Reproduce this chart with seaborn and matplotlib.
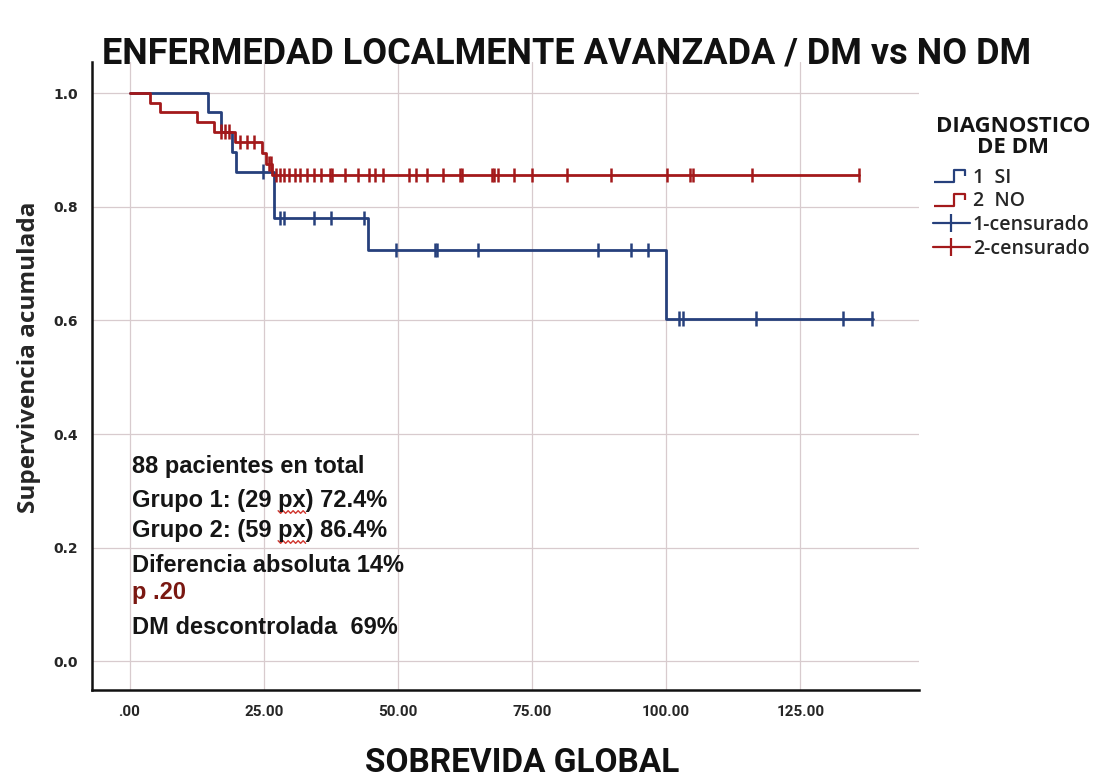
import numpy as np
import pandas as pd
import matplotlib
matplotlib.use("Agg")
import matplotlib.pyplot as plt
from matplotlib.lines import Line2D
from matplotlib.path import Path
import seaborn as sns

# Kaplan-Meier curves: step times (months) and cumulative survival after each step
si_times = [0.0, 14.6, 17.0, 19.0, 19.8, 27.0, 44.5, 100.0, 138.5]
si_surv = [1.0, 0.966, 0.931, 0.897, 0.862, 0.780, 0.724, 0.603, 0.603]
si_censored = [24.8, 28.0, 28.8, 34.4, 37.6, 43.7, 49.6, 56.9, 57.3, 65.0,
               87.2, 93.4, 96.6, 102.4, 103.2, 116.7, 133.0, 138.3]

no_times = [0.0, 3.8, 5.6, 12.6, 15.8, 19.6, 24.6, 25.4, 26.6, 136.0]
no_surv = [1.0, 0.983, 0.966, 0.949, 0.932, 0.914, 0.895, 0.876, 0.856, 0.856]
no_censored = [17.0, 17.7, 18.5, 20.5, 21.8, 23.2, 25.9, 26.4, 27.2, 28.0,
               28.8, 29.7, 30.8, 31.7, 33.0, 34.3, 35.6, 37.4, 37.8, 40.1,
               42.5, 44.6, 45.7, 47.3, 52.0, 53.3, 55.5, 58.4, 61.5, 62.0,
               67.5, 68.0, 68.6, 71.7, 75.0, 81.6, 89.8, 100.2, 104.5, 105.0,
               116.0, 135.9]

group_labels = ["1  SI", "2  NO"]
censor_labels = ["1-censurado", "2-censurado"]
x_ticks = [0, 25, 50, 75, 100, 125]
x_ticklabels = [".00", "25.00", "50.00", "75.00", "100.00", "125.00"]
y_ticks = [0.0, 0.2, 0.4, 0.6, 0.8, 1.0]
y_ticklabels = ["0.0", "0.2", "0.4", "0.6", "0.8", "1.0"]

notes = [
    ("88 pacientes en total", "#151515"),
    ("Grupo 1: (29 px) 72.4%", "#151515"),
    ("Grupo 2: (59 px) 86.4%", "#151515"),
    ("Diferencia absoluta 14%", "#151515"),
    ("p .20", "#7a1812"),
    ("DM descontrolada  69%", "#151515"),
]

BLUE = "#26407c"
RED = "#a3191b"
palette = {group_labels[0]: BLUE, group_labels[1]: RED}


def surv_at(times, surv, t):
    idx = np.searchsorted(times, t, side="right") - 1
    return np.asarray(surv)[idx]


curves = pd.concat([
    pd.DataFrame({"t": si_times, "s": si_surv, "grupo": group_labels[0]}),
    pd.DataFrame({"t": no_times, "s": no_surv, "grupo": group_labels[1]}),
], ignore_index=True)

censors = pd.concat([
    pd.DataFrame({"t": si_censored, "s": surv_at(si_times, si_surv, si_censored),
                  "grupo": group_labels[0]}),
    pd.DataFrame({"t": no_censored, "s": surv_at(no_times, no_surv, no_censored),
                  "grupo": group_labels[1]}),
], ignore_index=True)

sns.set_theme(style="white")
plt.rcParams["font.family"] = ["DejaVu Sans"]

W, H = 1100, 783
fig = plt.figure(figsize=(W / 100, H / 100), dpi=100)
ax = fig.add_axes([0.0836, 0.119, 0.7514, 0.802])

sns.lineplot(data=curves, x="t", y="s", hue="grupo", palette=palette,
             drawstyle="steps-post", estimator=None, sort=False,
             linewidth=2.0, legend=False, ax=ax)
sns.scatterplot(data=censors, x="t", y="s", hue="grupo", palette=palette,
                marker="|", s=110, linewidth=1.8, legend=False, ax=ax, zorder=3)

ax.set_xlim(-7, 147)
ax.set_ylim(-0.05, 1.055)
ax.set_xticks(x_ticks)
ax.set_xticklabels(x_ticklabels, fontsize=11, fontweight="bold",
                   family=["Roboto", "DejaVu Sans"])
ax.set_yticks(y_ticks)
ax.set_yticklabels(y_ticklabels, fontsize=10, fontweight="bold")
ax.tick_params(axis="x", length=0, pad=11)
ax.tick_params(axis="y", length=0, pad=10)
ax.grid(True, color="#d8cbce", linewidth=0.9)
for side in ("top", "right"):
    ax.spines[side].set_visible(False)
for side in ("left", "bottom"):
    ax.spines[side].set_color("#111111")
    ax.spines[side].set_linewidth(1.8)
ax.set_xlabel("")
ax.set_ylabel("Supervivencia acumulada", fontsize=17.5, fontweight="bold",
              family=["Open Sans", "DejaVu Sans"])
ax.yaxis.set_label_coords(-0.062, 0.53)

fig.text(0.515, 0.932, "ENFERMEDAD LOCALMENTE AVANZADA / DM vs NO DM",
         ha="center", va="center", fontsize=26, fontweight="bold",
         family=["Roboto", "DejaVu Sans"], color="#111111")
fig.text(0.475, 0.026, "SOBREVIDA GLOBAL", ha="center", va="center",
         fontsize=24, fontweight="bold",
         family=["Roboto", "DejaVu Sans"], color="#111111")

# summary notes; "px" carries a red spell-check squiggle
note_kw = dict(fontsize=17, fontweight="bold", family=["Liberation Sans", "DejaVu Sans"])
note_y = [467, 500, 530, 565, 592, 628]
note_x = 132
renderer = fig.canvas.get_renderer()
for (txt, col), py in zip(notes, note_y):
    fig.text(note_x / W, 1 - py / H, txt, ha="left", va="center", color=col, **note_kw)
    if " px)" in txt:
        prefix = txt.split("px")[0]
        probe = fig.text(0, 0, prefix, **note_kw)
        x0 = note_x + probe.get_window_extent(renderer).width
        probe.set_text(prefix + "px")
        x1 = note_x + probe.get_window_extent(renderer).width
        probe.remove()
        xs = np.arange(x0, x1 + 0.1, 2.5)
        ys = (H - py - 12) + np.where(np.arange(len(xs)) % 2 == 0, 1.3, -1.3)
        fig.add_artist(Line2D(xs / W, ys / H, color="#d0342c", linewidth=1.0,
                              transform=fig.transFigure))

# legend heading
fig.text(1013 / W, 1 - 137 / H, "DIAGNOSTICO\nDE DM", ha="center", va="center",
         fontsize=16, fontweight="bold", linespacing=0.95,
         family=["Open Sans", "DejaVu Sans"], color="#151515")

# step-shaped legend glyph
step_glyph = Path([(-1.0, -0.35), (0.15, -0.35), (0.15, 0.35), (0.85, 0.35), (0.85, 0.0)])
handles = [
    Line2D([], [], linestyle="None", marker=step_glyph, markersize=24,
           markeredgewidth=1.6, fillstyle="none", color=BLUE, markeredgecolor=BLUE),
    Line2D([], [], linestyle="None", marker=step_glyph, markersize=24,
           markeredgewidth=1.6, fillstyle="none", color=RED, markeredgecolor=RED),
    Line2D([], [], color=BLUE, linewidth=1.6, marker="|", markersize=13,
           markeredgewidth=1.6),
    Line2D([], [], color=RED, linewidth=1.6, marker="|", markersize=13,
           markeredgewidth=1.6),
]
labels = group_labels + censor_labels
leg = fig.legend(handles, labels, loc="upper left",
                 bbox_to_anchor=(933 / W, 1 - 168 / H),
                 frameon=False,
                 prop={"family": ["Open Sans", "DejaVu Sans"], "weight": "semibold", "size": 14},
                 handlelength=1.9, handletextpad=0.15, labelspacing=0.18,
                 borderaxespad=0.0, borderpad=0.0)

fig.savefig("out.png", dpi=100, facecolor="white")
